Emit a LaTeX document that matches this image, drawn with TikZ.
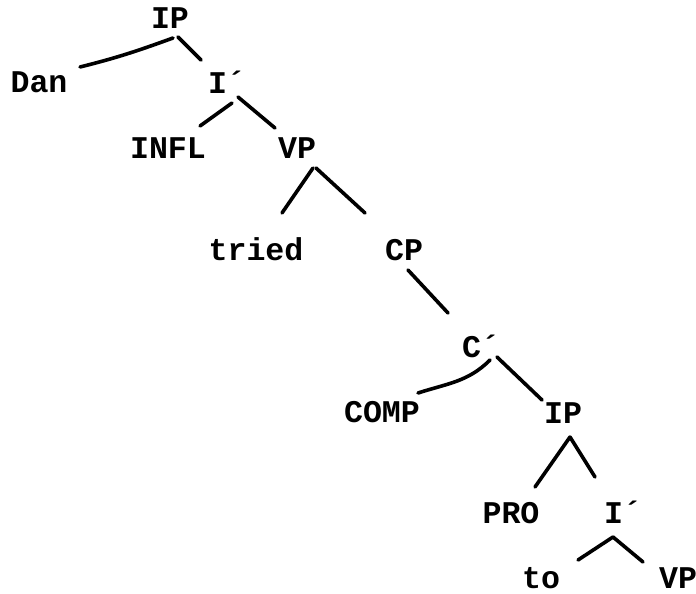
\documentclass[tikz,border=0pt]{standalone}
\usepackage{fontspec}
\newfontfamily\treefont{Liberation Mono}
\usetikzlibrary{positioning}

\begin{document}
\begin{tikzpicture}[
  x=0.5pt, y=-0.5pt,
  cat/.style={anchor=base, inner sep=0pt, font=\treefont\bfseries\fontsize{15.8}{18}\selectfont},
  branch/.style={line width=1.8pt, line cap=round}
]
\useasboundingbox (0,0) rectangle (696,594);
% upper clause
\node[cat] (ip1) at (170,28) {IP};
\node[cat] (dan) at (39,92) {Dan};
\node[cat] (ib1) at (227,93) {I´};
\node[cat] (infl) at (168,158) {INFL};
\node[cat] (vp1) at (297,158) {VP};
\node[cat] (tried) at (256,260) {tried};
\node[cat] (cp) at (404,260) {CP};
% embedded clause
\node[cat] (cb) at (481,357) {C´};
\node[cat] (comp) at (382,422) {COMP};
\node[cat] (ip2) at (563,423) {IP};
\node[cat] (pro) at (511,523) {PRO};
\node[cat] (ib2) at (623,523) {I´};
\node[cat] (to) at (541,588) {to};
\node[cat] (vp2) at (678,588) {VP};
% branches
\draw[branch] ([shift={(3,10)}]ip1.base) to[out=200, in=14] ([shift={(41,-25)}]dan.base);
\draw[branch] ([shift={(8,9)}]ip1.base) -- ([shift={(-26,-33)}]ib1.base);
\draw[branch] ([shift={(5,10)}]ib1.base) -- ([shift={(32,-32)}]infl.base);
\draw[branch] ([shift={(11,4)}]ib1.base) -- ([shift={(-22,-30)}]vp1.base);
\draw[branch] ([shift={(16,10)}]vp1.base) -- ([shift={(26,-47)}]tried.base);
\draw[branch] ([shift={(19,10)}]vp1.base) -- ([shift={(-39,-47)}]cp.base);
\draw[branch] ([shift={(4,10)}]cp.base) -- ([shift={(-33,-44)}]cb.base);
\draw[branch] ([shift={(9,3)}]cb.base) to[out=225, in=18] ([shift={(36,-29)}]comp.base);
\draw[branch] ([shift={(16,0)}]cb.base) -- ([shift={(-21,-23)}]ip2.base);
\draw[branch] ([shift={(7,14)}]ip2.base) -- ([shift={(24,-36)}]pro.base);
\draw[branch] ([shift={(7,14)}]ip2.base) -- ([shift={(-28,-46)}]ib2.base);
\draw[branch] ([shift={(-10,14)}]ib2.base) -- ([shift={(37,-28)}]to.base);
\draw[branch] ([shift={(-10,14)}]ib2.base) -- ([shift={(-35,-26)}]vp2.base);
\end{tikzpicture}
\end{document}
